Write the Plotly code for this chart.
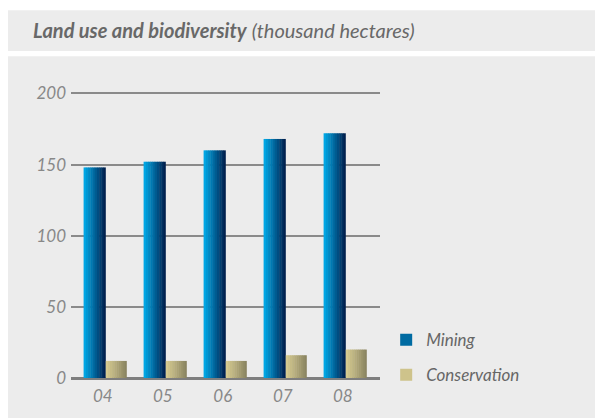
import plotly.graph_objects as go

years = ["04", "05", "06", "07", "08"]
mining = [148, 152, 160, 168, 172]
conservation = [12, 12, 12, 16, 20]

FONT = "Lato"


def lerp_color(c0, c1, t):
    a = [int(c0[i:i + 2], 16) for i in (1, 3, 5)]
    b = [int(c1[i:i + 2], 16) for i in (1, 3, 5)]
    return "rgb(%d,%d,%d)" % tuple(round(a[i] + (b[i] - a[i]) * t) for i in range(3))


def add_gradient_bars(fig, values, name, left, right, c0, c1, legend_k, n=10):
    # fake a horizontal gradient with thin overlapping bar stripes
    w = (right - left) / n
    for k in range(n):
        fig.add_trace(
            go.Bar(
                x=years,
                y=values,
                offset=left + k * w,
                width=w * 1.2 if k < n - 1 else w,
                marker=dict(color=lerp_color(c0, c1, k / (n - 1)), line_width=0),
                name=name,
                legendgroup=name,
                showlegend=(k == legend_k),
                hoverinfo="skip" if k != legend_k else None,
            )
        )


fig = go.Figure()
add_gradient_bars(fig, mining, "Mining", -0.32, 0.05, "#00a6e4", "#00214f", 4)
add_gradient_bars(fig, conservation, "Conservation", 0.05, 0.40, "#d6cb90", "#8b8562", 1)

# backgrounds: header band and body panel
fig.add_shape(type="rect", xref="paper", yref="paper", x0=-0.207, x1=1.75,
              y0=1.143, y1=1.286, fillcolor="#ececec", line_width=0, layer="below")
fig.add_shape(type="rect", xref="paper", yref="paper", x0=-0.207, x1=1.75,
              y0=-0.16, y1=1.125, fillcolor="#ececec", line_width=0, layer="below")

fig.add_annotation(
    text="<b><i>Land use and biodiversity</i></b> <i>(thousand hectares)</i>",
    xref="paper", yref="paper", x=-0.128, y=1.218, xanchor="left", yanchor="middle",
    showarrow=False, font=dict(family=FONT, size=20, color="#686868"),
)

# page body has an 8px margin, so shift the plot up/left by 8px
fig.update_layout(
    width=595,
    height=410,
    margin=dict(l=63, r=223, t=84, b=38),
    paper_bgcolor="white",
    plot_bgcolor="rgba(0,0,0,0)",
    barmode="overlay",
    font=dict(family=FONT, color="#888888"),
    showlegend=True,
    legend=dict(
        x=1.02, y=0.071, xanchor="left", yanchor="middle",
        bgcolor="rgba(0,0,0,0)",
        font=dict(family=FONT, size=17, color="#666666", style="italic"),
        tracegroupgap=10,
    ),
    xaxis=dict(
        type="category",
        range=[-0.53, 4.62],
        showgrid=False,
        showline=False,
        ticks="",
        ticklabelstandoff=6,
        tickfont=dict(size=17, color="#888888", style="italic"),
    ),
    yaxis=dict(
        range=[0, 201],
        tickvals=[0, 50, 100, 150, 200],
        showgrid=True,
        gridcolor="#8a8a8a",
        gridwidth=1.5,
        zeroline=True,
        zerolinecolor="#7e7e7e",
        zerolinewidth=3,
        ticks="",
        ticklabelstandoff=4,
        tickfont=dict(size=17, color="#888888", style="italic"),
    ),
)

fig.write_html("out.html")
